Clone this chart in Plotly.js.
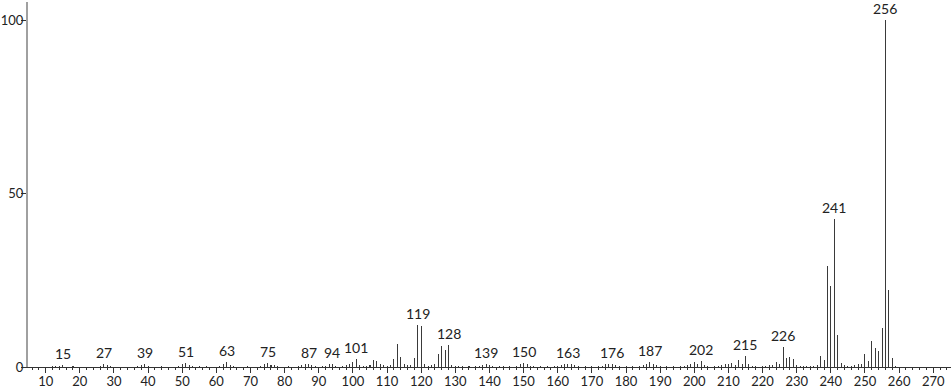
<!DOCTYPE html>
<html>
<head>
<meta charset="utf-8">
<script src="https://cdn.plot.ly/plotly-3.0.1.min.js"></script>
<style>html,body{margin:0;padding:0;background:#fff;}#chart{width:951px;height:389px;}</style>
</head>
<body>
<div id="chart"></div>
<script>
// m/z values and relative intensities (%)
const mz = [12,13,14,15,18,26,27,28,29,37,38,39,40,44,49,50,51,52,53,55,57,61,62,63,64,65,69,73,74,75,76,77,78,81,84,85,86,87,88,89,91,92,93,94,95,97,98,99,100,101,102,103,104,105,106,107,108,109,110,111,112,113,114,115,116,117,118,119,120,121,122,123,124,125,126,127,128,129,130,131,132,134,136,137,138,139,140,141,143,144,146,148,149,150,151,152,153,155,157,159,160,161,162,163,164,165,166,168,170,172,173,174,175,176,177,178,180,182,184,185,186,187,188,189,190,192,194,196,197,198,199,200,201,202,203,204,206,207,208,209,210,211,212,213,214,215,216,217,218,220,221,222,223,224,225,226,227,228,229,230,231,232,233,234,235,236,237,238,239,240,241,242,243,244,245,246,247,248,249,250,251,252,253,254,255,256,257,258,259];
const intensity = [0.2,0.2,0.3,0.5,0.3,0.4,0.9,0.5,0.3,0.4,0.6,1.0,0.4,0.3,0.4,0.9,1.2,0.6,0.3,0.3,0.3,0.4,0.9,1.4,0.7,0.4,0.3,0.4,1.0,1.1,0.6,0.7,0.3,0.3,0.3,0.5,0.8,0.9,0.6,0.3,0.3,0.4,0.8,0.9,0.4,0.3,0.6,0.9,1.5,2.2,0.5,0.3,0.4,0.6,2.0,1.7,0.8,0.5,0.3,0.6,2.2,6.7,3.0,0.9,0.5,0.5,2.5,12.0,11.8,0.9,0.4,0.5,0.9,3.8,6.1,4.9,6.4,0.6,0.3,0.3,0.3,0.3,0.3,0.4,0.6,0.9,0.5,0.3,0.3,0.3,0.3,0.4,1.0,1.2,0.9,0.4,0.3,0.3,0.3,0.3,0.4,0.6,0.9,1.0,0.8,0.5,0.3,0.3,0.3,0.3,0.4,0.8,0.8,1.0,0.6,0.3,0.3,0.3,0.3,0.5,0.9,1.3,0.9,0.5,0.3,0.3,0.3,0.3,0.3,0.6,0.8,1.3,0.8,1.6,0.7,0.4,0.3,0.4,0.5,0.9,0.9,1.1,0.6,2.0,0.9,3.1,0.9,0.4,0.3,0.3,0.4,0.5,0.6,1.5,1.0,5.7,2.5,2.8,2.2,0.7,0.4,0.4,0.4,0.4,0.4,0.5,3.2,1.9,29.2,23.3,42.6,9.1,1.2,0.5,0.4,0.4,0.5,0.8,0.9,3.8,1.8,7.4,5.6,4.6,11.1,100,22.2,2.6,0.3];
// labelled peaks
const labelMz = [15,27,39,51,63,75,87,94,101,119,128,139,150,163,176,187,202,215,226,241,256];
const xTicks = [10,20,30,40,50,60,70,80,90,100,110,120,130,140,150,160,170,180,190,200,210,220,230,240,250,260,270];
const yTicks = [0,50,100];

const lookup = {};
mz.forEach((m, i) => { lookup[m] = intensity[i]; });

const FONT = 'Lato, "DejaVu Sans", sans-serif';

const trace = {
  type: 'bar',
  x: mz,
  y: intensity,
  width: 0.3,
  marker: {color: '#3a3a3a', line: {width: 0}},
  hoverinfo: 'x+y'
};

const annotations = labelMz.map(m => ({
  x: m, y: lookup[m] || 0,
  xref: 'x', yref: 'y',
  text: String(m),
  showarrow: false,
  yanchor: 'bottom',
  xanchor: 'center',
  yshift: 1,
  font: {family: FONT, size: 14, color: '#222'}
}));

const layout = {
  width: 951, height: 389,
  margin: {l: 28, r: 0, t: 2, b: 22},
  paper_bgcolor: '#fff', plot_bgcolor: '#fff',
  showlegend: false,
  bargap: 0,
  xaxis: {
    range: [4.82, 275.2],
    tickvals: xTicks,
    ticktext: xTicks.map(String),
    ticks: 'outside', ticklen: 5, tickwidth: 1, tickcolor: '#333',
    ticklabelstandoff: -3,
    minor: {dtick: 2, tick0: 0, ticks: 'outside', ticklen: 2, tickwidth: 1, tickcolor: '#333', showgrid: false},
    showline: true, linecolor: '#333', linewidth: 1,
    showgrid: false, zeroline: false,
    tickfont: {family: FONT, size: 13, color: '#222'},
    automargin: false,
    fixedrange: true
  },
  yaxis: {
    range: [0, 105.2],
    tickvals: yTicks,
    ticktext: yTicks.map(String),
    ticks: 'outside', ticklen: 5, tickwidth: 1, tickcolor: '#333',
    ticklabelstandoff: -5,
    showline: true, linecolor: '#a0a0a0', linewidth: 2,
    showgrid: false, zeroline: false,
    tickfont: {family: FONT, size: 13, color: '#222'},
    automargin: false,
    fixedrange: true
  },
  annotations: annotations
};

Plotly.newPlot('chart', [trace], layout, {staticPlot: true, displayModeBar: false});
</script>
</body>
</html>
